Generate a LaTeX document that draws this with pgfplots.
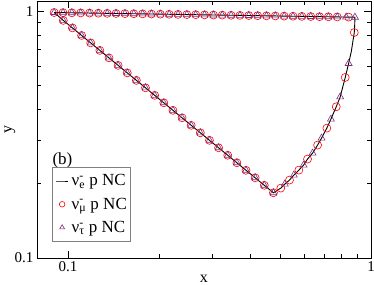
\documentclass[border=0pt]{standalone}
\usepackage{fontspec}
\setmainfont{Liberation Serif}
\usepackage{pgfplots}
\pgfplotsset{compat=1.18}
\definecolor{tri}{RGB}{125,45,125}
\newcommand\nub[1]{ν\rlap{\textsuperscript{-}}\textsubscript{#1}}
\begin{document}
\begin{tikzpicture}
\begin{axis}[
  xmode=log, ymode=log,
  scale only axis, width=334pt, height=257pt,
  xmin=0.079, xmax=1, ymin=0.1, ymax=1.1,
  xtick={0.1,1}, xticklabels={0.1,1},
  ytick={0.1,1}, yticklabels={0.1,1},
  major tick length=7pt, minor tick length=4pt,
  tick style={black, line width=0.5pt},
  axis line style={line width=0.7pt},
  tick label style={font=\fontsize{15}{18}\selectfont},
  label style={font=\fontsize{16}{19}\selectfont},
  xlabel={x}, ylabel={y},
  xlabel style={at={(axis description cs:0.5,-0.097)}, anchor=base, inner sep=0pt},
  ylabel style={at={(axis description cs:-0.075,0.5)}, anchor=base, inner sep=0pt},
  legend style={at={(rel axis cs:0.046,0.353)}, anchor=north west, draw=gray, line width=0.7pt,
    font=\fontsize{17}{20}\selectfont, inner xsep=3pt, inner ysep=6pt, row sep=8.5pt,
    nodes={inner sep=1pt}},
  legend cell align=left,
  legend image code/.code={\path[draw=none,fill=none] (0pt,0pt) (14.5pt,0pt); \draw[mark repeat=2, mark phase=2, #1, mark size=2.8pt] plot coordinates {(0pt,0pt) (6pt,0pt) (12pt,0pt)};},
]
% curve (closed loop)
\addplot[black, line width=0.9pt, mark=none] coordinates {
(0.0900,0.9879) (0.09625,0.9867) (0.10294,0.9854) (0.11013,0.9842) (0.11776,0.9829)
(0.12594,0.9817) (0.13470,0.9804) (0.14406,0.9792) (0.15408,0.9779) (0.16482,0.9767)
(0.17628,0.9754) (0.1885,0.9742) (0.20165,0.9730) (0.2157,0.9717) (0.2307,0.9705)
(0.2467,0.9692) (0.2639,0.9680) (0.2822,0.9667) (0.3019,0.9655) (0.3228,0.9642)
(0.3453,0.9630) (0.3693,0.9618) (0.3950,0.9605) (0.4225,0.9593) (0.4519,0.9580)
(0.4832,0.9568) (0.5168,0.9555) (0.5528,0.9543) (0.5912,0.9530) (0.6324,0.9518)
(0.6764,0.9506) (0.7234,0.9493) (0.7737,0.9481) (0.8277,0.9468) (0.8851,0.9456)
(0.8835,0.88) (0.8807,0.8201) (0.8610,0.6866) (0.8436,0.6141) (0.8222,0.5391)
(0.7914,0.4498) (0.7678,0.4100) (0.7375,0.3654) (0.7149,0.3360) (0.6868,0.3061)
(0.6664,0.2868) (0.6415,0.2661) (0.6174,0.2517) (0.5990,0.2379) (0.5779,0.2271)
(0.5563,0.2168) (0.5383,0.2069) (0.5193,0.1993) (0.5038,0.1920) (0.4764,0.1838)
(0.44443,0.1971) (0.41462,0.2114) (0.38679,0.2267) (0.36085,0.2432) (0.33665,0.2608)
(0.31405,0.2797) (0.29299,0.2999) (0.27333,0.3216) (0.25500,0.3449) (0.23790,0.3699)
(0.22195,0.3967) (0.20706,0.4255) (0.19318,0.4562) (0.18020,0.4893) (0.16811,0.5247)
(0.15684,0.5626) (0.14633,0.6034) (0.13651,0.6471) (0.12735,0.6939) (0.11880,0.7440)
(0.11083,0.7980) (0.10340,0.8557) (0.09647,0.9178) (0.0900,0.9879)
};
\addlegendentry{\nub{e} p NC}
% circles
\addplot[only marks, mark=o, mark size=4pt, red, mark options={line width=0.6pt}] coordinates {
(0.0900,0.9879) (0.09625,0.9867) (0.10294,0.9854) (0.11013,0.9842) (0.11776,0.9829)
(0.12594,0.9817) (0.13470,0.9804) (0.14406,0.9792) (0.15408,0.9779) (0.16482,0.9767)
(0.17628,0.9754) (0.1885,0.9742) (0.20165,0.9730) (0.2157,0.9717) (0.2307,0.9705)
(0.2467,0.9692) (0.2639,0.9680) (0.2822,0.9667) (0.3019,0.9655) (0.3228,0.9642)
(0.3453,0.9630) (0.3693,0.9618) (0.3950,0.9605) (0.4225,0.9593) (0.4519,0.9580)
(0.4832,0.9568) (0.5168,0.9555) (0.5528,0.9543) (0.5912,0.9530) (0.6324,0.9518)
(0.6764,0.9506) (0.7234,0.9493) (0.7737,0.9481) (0.8436,0.9465)
(0.8807,0.8201) (0.8222,0.5391) (0.7678,0.4100) (0.7149,0.3360) (0.6664,0.2868)
(0.6174,0.2517) (0.5779,0.2271) (0.5383,0.2069) (0.5038,0.1920) (0.4764,0.1838)
(0.44443,0.1971) (0.41462,0.2114) (0.38679,0.2267) (0.36085,0.2432) (0.33665,0.2608)
(0.31405,0.2797) (0.29299,0.2999) (0.27333,0.3216) (0.25500,0.3449) (0.23790,0.3699)
(0.22195,0.3967) (0.20706,0.4255) (0.19318,0.4562) (0.18020,0.4893) (0.16811,0.5247)
(0.15684,0.5626) (0.14633,0.6034) (0.13651,0.6471) (0.12735,0.6939) (0.11880,0.7440)
(0.11083,0.7980) (0.10340,0.8557) (0.09647,0.9178)
};
\addlegendentry{\nub{μ} p NC}
% triangles
\addplot[only marks, mark=triangle, mark size=4pt, tri, mark options={line width=0.6pt}] coordinates {
(0.0900,0.9879) (0.09625,0.9867) (0.10294,0.9854) (0.11013,0.9842) (0.11776,0.9829)
(0.12594,0.9817) (0.13470,0.9804) (0.14406,0.9792) (0.15408,0.9779) (0.16482,0.9767)
(0.17628,0.9754) (0.1885,0.9742) (0.20165,0.9730) (0.2157,0.9717) (0.2307,0.9705)
(0.2467,0.9692) (0.2639,0.9680) (0.2822,0.9667) (0.3019,0.9655) (0.3228,0.9642)
(0.3453,0.9630) (0.3693,0.9618) (0.3950,0.9605) (0.4225,0.9593) (0.4519,0.9580)
(0.4832,0.9568) (0.5168,0.9555) (0.5528,0.9543) (0.5912,0.9530) (0.6324,0.9518)
(0.6764,0.9506) (0.7234,0.9493) (0.7737,0.9481) (0.8277,0.9468) (0.8851,0.9456)
(0.8436,0.6141) (0.7914,0.4498) (0.7375,0.3654) (0.6868,0.3061) (0.6415,0.2661)
(0.5990,0.2379) (0.5563,0.2168) (0.5193,0.1993) (0.4764,0.1838)
(0.44443,0.1971) (0.41462,0.2114) (0.38679,0.2267) (0.36085,0.2432) (0.33665,0.2608)
(0.31405,0.2797) (0.29299,0.2999) (0.27333,0.3216) (0.25500,0.3449) (0.23790,0.3699)
(0.22195,0.3967) (0.20706,0.4255) (0.19318,0.4562) (0.18020,0.4893) (0.16811,0.5247)
(0.15684,0.5626) (0.14633,0.6034) (0.13651,0.6471) (0.12735,0.6939) (0.11880,0.7440)
(0.11083,0.7980) (0.10340,0.8557) (0.09647,0.9178)
};
\addlegendentry{\nub{τ} p NC}
\node[anchor=base west, inner sep=0pt, font=\fontsize{17}{20}\selectfont] at (rel axis cs:0.046,0.362) {(b)};
\end{axis}
\pgfresetboundingbox
\path[use as bounding box] ([shift={(-37pt,-27pt)}]current axis.south west) rectangle ([shift={(3pt,1pt)}]current axis.north east);
\end{tikzpicture}
\end{document}
